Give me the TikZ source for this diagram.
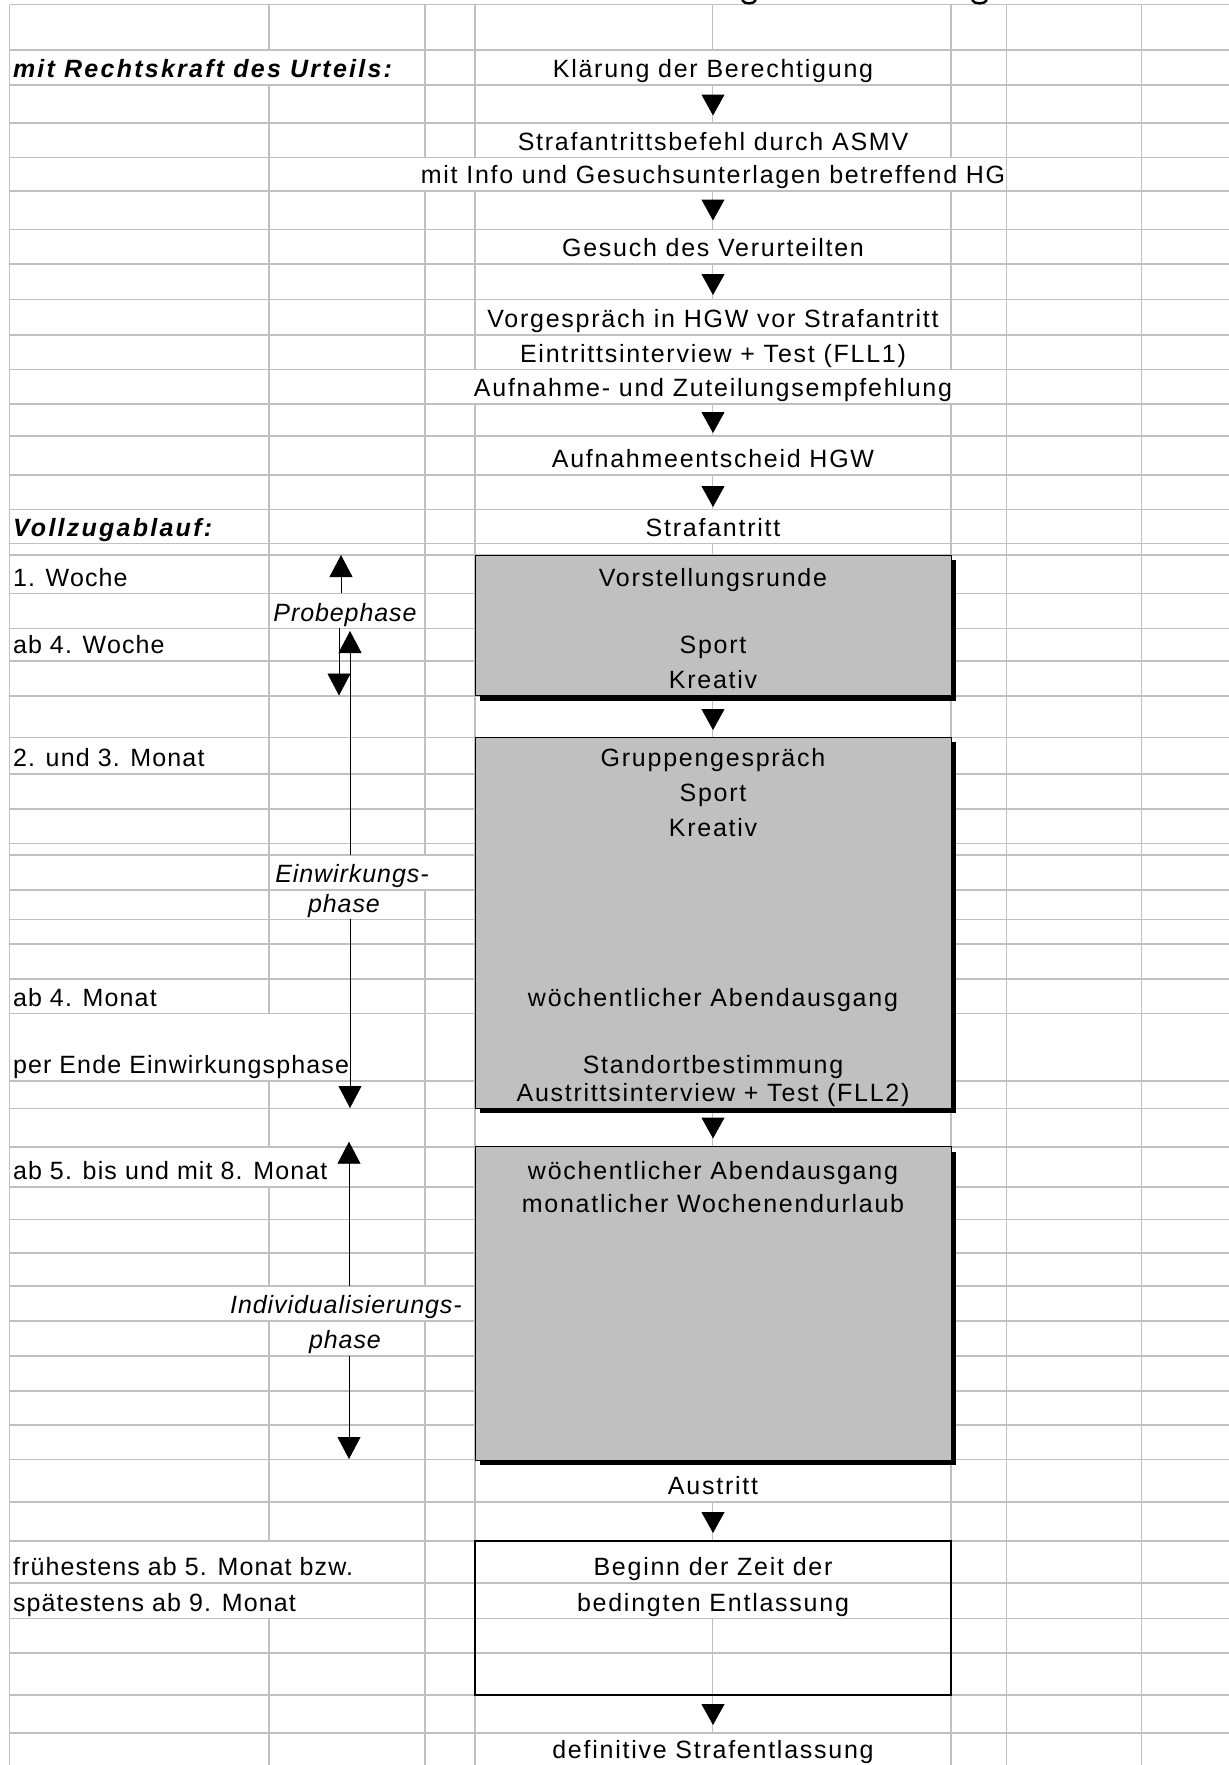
\documentclass[tikz,border=0pt]{standalone}
\usepackage{fontspec}
\setmainfont{Liberation Sans}[LetterSpace=7, ItalicFeatures={LetterSpace=3.7}, BoldItalicFeatures={LetterSpace=9}]
\newfontfamily\leftfont{Liberation Sans}[LetterSpace=4.5]
\usetikzlibrary{arrows.meta,shadows}
\definecolor{gridgray}{RGB}{192,192,192}
\definecolor{boxgray}{RGB}{192,192,192}
\pgfdeclarelayer{vgrid}\pgfdeclarelayer{mask}\pgfdeclarelayer{hgrid}
\pgfsetlayers{vgrid,mask,hgrid,main}
% #1 style, #2 name, #3 x, #4 row top, #5 row bottom, #6 anchor, #7 text
\newcommand\mycell[7]{%
  \pgfmathsetmacro\mycellh{#5-#4-7.3}%
  \node[#1, anchor=#6, text height=\mycellh pt, text depth=7.3pt] (#2) at (#3,{#5-7.3}) {#7};%
  \begin{pgfonlayer}{mask}\fill[white] (#2.south west) rectangle (#2.north east);\end{pgfonlayer}%
}
\tikzset{
  txt/.style={font=\fontsize{25}{29}\selectfont, inner xsep=0pt, inner ysep=0pt, outer sep=0pt},
  ltxt/.style={txt, font=\fontsize{25}{29}\selectfont\leftfont},
  ital/.style={txt, font=\fontsize{25}{29}\selectfont\itshape},
  bital/.style={txt, font=\fontsize{25}{29}\selectfont\bfseries\itshape},
  gridline/.style={draw=gridgray, line width=1.6pt},
  gbox/.style={draw=black, line width=1pt, fill=boxgray, inner sep=0pt, outer sep=0pt,
    minimum width=476pt, general shadow={fill=black, shadow xshift=5pt, shadow yshift=-5pt}},
  wbox/.style={draw=black, line width=2pt, inner sep=0pt, outer sep=0pt, minimum width=476pt},
  flow/.style={-{Triangle[width=23pt,length=21pt]}, line width=1pt, black},
  larr/.style={-{Triangle[width=23pt,length=22pt]}, line width=0.9pt, black},
}
\begin{document}
\begin{tikzpicture}[x=1pt,y=-1pt]
\useasboundingbox (0,0) rectangle (1229,1765);
% grid
\begin{pgfonlayer}{vgrid}
\foreach \x in {9.5,269,425,475,712.5,951,1006.5,1141.5}
  \draw[gridline] (\x,4.5) -- (\x,1765);
\end{pgfonlayer}
\begin{pgfonlayer}{hgrid}
\foreach \y in {4.5,50,85,122.7,157.3,190.7,229.3,264,299.3,335,369.3,404,435.7,475,509.3,543.3,555,593.3,628.3,660.7,695.7,737.3,774,808.7,843.3,855,890,919.3,944,979,1013.3,1081,1108.3,1146.7,1186.7,1219.3,1252.7,1285.7,1320.7,1356,1390.7,1425,1459.5,1501.7,1540.7,1582.7,1618.3,1652.7,1695,1732.7}
  \draw[gridline] (9.5,\y) -- (1229,\y);
\end{pgfonlayer}
% fragments of the cut-off title
\draw[line width=2.4pt] (742,0) .. controls (744,4.5) and (754,4.5) .. (756,0);
\draw[line width=2.4pt] (972,0) .. controls (974,4.5) and (985,4.5) .. (987,0);
% boxes
\node[gbox, minimum height=140.7pt] (box1) at (713,625.35) {};
\node[gbox, minimum height=371pt] (box2) at (713,922.8) {};
\node[gbox, minimum height=313.3pt] (box3) at (713,1303.35) {};
\node[wbox, minimum height=154.3pt] (box4) at (713,1617.85) {};
% left column
\mycell{bital}{lRecht}{13}{50}{85}{base west}{mit Rechtskraft des Urteils:}
\mycell{bital}{lVollzug}{13}{509.3}{543.3}{base west}{Vollzugablauf:}
\mycell{ltxt}{lW1}{13}{555}{593.3}{base west}{1. Woche}
\mycell{ltxt}{lW4}{13}{628.3}{660.7}{base west}{ab 4. Woche}
\mycell{ltxt}{lM23}{13}{737.3}{774}{base west}{2. und 3. Monat}
\mycell{ltxt}{lM4}{13}{979}{1013.3}{base west}{ab 4. Monat}
\mycell{ltxt}{lEnde}{13}{1013.3}{1081}{base west}{per Ende Einwirkungsphase}
\mycell{ltxt}{lM58}{13}{1146.7}{1186.7}{base west}{ab 5. bis und mit 8. Monat}
\mycell{ltxt}{lFrueh}{13}{1540.7}{1582.7}{base west}{frühestens ab 5. Monat bzw.}
\mycell{ltxt}{lSpaet}{13}{1582.7}{1618.3}{base west}{spätestens ab 9. Monat}
% phase labels
\mycell{ital}{probe}{345}{593.3}{628.3}{base}{Probephase}
\mycell{ital}{einA}{352}{855}{890}{base}{Einwirkungs-}
\mycell{ital}{einB}{344}{890}{919.3}{base}{phase}
\mycell{ital}{indA}{346}{1285.7}{1320.7}{base}{Individualisierungs-}
\mycell{ital}{indB}{345}{1320.7}{1356}{base}{phase}
% centre column
\mycell{txt}{klaer}{713}{50}{85}{base}{Klärung der Berechtigung}
\mycell{txt}{befehl}{713}{122.7}{157.3}{base}{Strafantrittsbefehl durch ASMV}
\mycell{txt}{info}{713}{157.3}{190.7}{base}{mit Info und Gesuchsunterlagen betreffend HG}
\mycell{txt}{gesuch}{713}{229.3}{264}{base}{Gesuch des Verurteilten}
\mycell{txt}{vorg}{713}{299.3}{335}{base}{Vorgespräch in HGW vor Strafantritt}
\mycell{txt}{eintr}{713}{335}{369.3}{base}{Eintrittsinterview + Test (FLL1)}
\mycell{txt}{aufn}{713}{369.3}{404}{base}{Aufnahme- und Zuteilungsempfehlung}
\mycell{txt}{aentsch}{713}{435.7}{475}{base}{Aufnahmeentscheid HGW}
\mycell{txt}{antritt}{713}{509.3}{543.3}{base}{Strafantritt}
\mycell{txt}{vorst}{713}{555}{593.3}{base}{Vorstellungsrunde}
\mycell{txt}{sport1}{713}{628.3}{660.7}{base}{Sport}
\mycell{txt}{krea1}{713}{660.7}{695.7}{base}{Kreativ}
\mycell{txt}{grupp}{713}{737.3}{774}{base}{Gruppengespräch}
\mycell{txt}{sport2}{713}{774}{808.7}{base}{Sport}
\mycell{txt}{krea2}{713}{808.7}{843.3}{base}{Kreativ}
\mycell{txt}{abend1}{713}{979}{1013.3}{base}{wöchentlicher Abendausgang}
\mycell{txt}{stand}{713}{1013.3}{1081}{base}{Standortbestimmung}
\mycell{txt}{austrI}{713}{1081}{1108.3}{base}{Austrittsinterview + Test (FLL2)}
\mycell{txt}{abend2}{713}{1146.7}{1186.7}{base}{wöchentlicher Abendausgang}
\mycell{txt}{monat}{713}{1186.7}{1219.3}{base}{monatlicher Wochenendurlaub}
\mycell{txt}{austritt}{713}{1459.5}{1501.7}{base}{Austritt}
\mycell{txt}{beginn}{713}{1540.7}{1582.7}{base}{Beginn der Zeit der}
\mycell{txt}{beding}{713}{1582.7}{1618.3}{base}{bedingten Entlassung}
\mycell{txt}{defin}{713}{1732.7}{1765.6}{base}{definitive Strafentlassung}
% flow arrows
\draw[flow, shorten <=9.5pt, shorten >=7.2pt] (klaer.south) -- (befehl.north);
\draw[flow, shorten <=8.8pt, shorten >=8.8pt] (info.south) -- (gesuch.north);
\draw[flow, shorten <=10pt, shorten >=4.3pt] (gesuch.south) -- (vorg.north);
\draw[flow, shorten <=8pt, shorten >=2.7pt] (aufn.south) -- (aentsch.north);
\draw[flow, shorten <=11pt, shorten >=2.3pt] (aentsch.south) -- (antritt.north);
\draw[flow, shorten <=13.3pt, shorten >=7.3pt] (box1.south) -- (box2.north);
\draw[flow, shorten <=9.2pt, shorten >=8.2pt] (box2.south) -- (box3.north);
\draw[flow, shorten <=10.3pt, shorten >=7.7pt] (austritt.south) -- (box4.north);
\draw[flow, shorten <=9pt, shorten >=7.7pt] (box4.south) -- (defin.north);
% phase arrows
\coordinate (pTop) at (341,555);
\coordinate (pBot) at (339,695.5);
\coordinate (eTop) at (350,631);
\coordinate (eBot) at (350,1108);
\coordinate (iTop) at (349,1141.7);
\coordinate (iBot) at (349,1459);
\draw[larr] (probe.north -| pTop) -- (pTop);
\draw[larr] (probe.south -| pBot) -- (pBot);
\draw[larr] (einA.north -| eTop) -- (eTop);
\draw[larr] (einB.south -| eBot) -- (eBot);
\draw[larr] (indA.north -| iTop) -- (iTop);
\draw[larr] (indB.south -| iBot) -- (iBot);
\end{tikzpicture}
\end{document}
